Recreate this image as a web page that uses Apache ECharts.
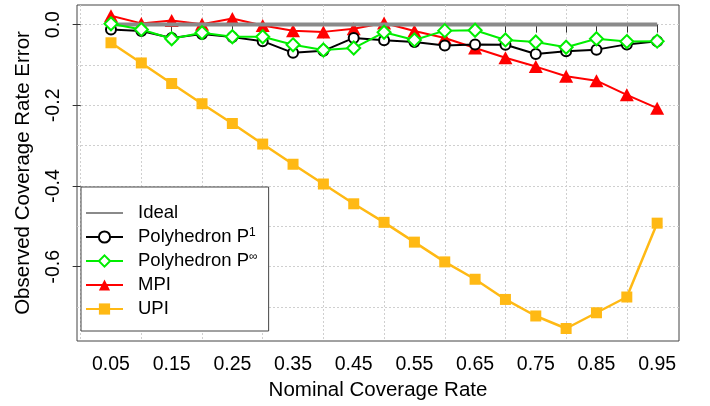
<!DOCTYPE html>
<html>
<head>
<meta charset="utf-8">
<script src="https://cdn.jsdelivr.net/npm/echarts@6/dist/echarts.min.js"></script>
<style>
  html, body { margin: 0; padding: 0; background: #fff; }
  #chart { width: 710px; height: 406px; }
</style>
</head>
<body>
<div id="chart"></div>
<script>
// Nominal coverage levels on the x axis
const coverage = [0.05, 0.10, 0.15, 0.20, 0.25, 0.30, 0.35, 0.40, 0.45, 0.50,
                  0.55, 0.60, 0.65, 0.70, 0.75, 0.80, 0.85, 0.90, 0.95];

// Observed minus nominal coverage for each method
const ideal = [0, 0, 0, 0, 0, 0, 0, 0, 0, 0, 0, 0, 0, 0, 0, 0, 0, 0, 0];
const polyP1 = [-0.012, -0.016, -0.033, -0.023, -0.031, -0.041, -0.070, -0.065, -0.033, -0.039,
                -0.043, -0.052, -0.049, -0.050, -0.073, -0.066, -0.062, -0.049, -0.041];
const polyPInf = [0.002, -0.012, -0.035, -0.020, -0.030, -0.030, -0.050, -0.063, -0.058, -0.019,
                  -0.038, -0.015, -0.014, -0.038, -0.043, -0.056, -0.035, -0.042, -0.041];
const mpi = [0.022, 0.003, 0.010, 0.001, 0.015, -0.002, -0.015, -0.018, -0.010, 0.004,
             -0.016, -0.033, -0.058, -0.082, -0.104, -0.128, -0.139, -0.174, -0.207];
const upi = [-0.045, -0.095, -0.146, -0.196, -0.245, -0.296, -0.346, -0.395, -0.444, -0.490,
             -0.539, -0.588, -0.631, -0.681, -0.722, -0.753, -0.714, -0.675, -0.492];

// Axis ticks, labels and grid lines
const xTickValues = [0.05, 0.10, 0.15, 0.20, 0.25, 0.30, 0.35, 0.40, 0.45, 0.50,
                     0.55, 0.60, 0.65, 0.70, 0.75, 0.80, 0.85, 0.90, 0.95];
const xLabelValues = [0.05, 0.15, 0.25, 0.35, 0.45, 0.55, 0.65, 0.75, 0.85, 0.95];
const xGridValues = [0, 0.1, 0.2, 0.3, 0.4, 0.5, 0.6, 0.7, 0.8, 0.9];
const yTickValues = [0, -0.2, -0.4, -0.6];
const yGridValues = [0, -0.1, -0.2, -0.3, -0.4, -0.5, -0.6, -0.7];

const xRange = [-0.006, 0.986];
const yRange = [-0.784, 0.0486];

const FONT = 'Liberation Sans, Arial, sans-serif';
const pairs = (vals) => coverage.map((c, i) => [c, vals[i]]);

const legendText = {
  'Ideal': 'Ideal',
  'Polyhedron P1': 'Polyhedron P{sup|1}',
  'Polyhedron Pinf': 'Polyhedron P{sup|∞}',
  'MPI': 'MPI',
  'UPI': 'UPI'
};

const gridLine = { show: true, lineStyle: { color: '#cfcfcf', width: 1, type: [2, 2] } };

const chart = echarts.init(document.getElementById('chart'), null, { renderer: 'canvas' });
chart.setOption({
  animation: false,
  backgroundColor: '#fff',
  textStyle: { fontFamily: FONT },
  grid: {
    show: true, left: 77, right: 31, top: 5, bottom: 64,
    borderColor: '#444', borderWidth: 1, backgroundColor: 'transparent'
  },
  xAxis: [{
    type: 'value', min: xRange[0], max: xRange[1],
    name: 'Nominal Coverage Rate', nameLocation: 'middle', nameGap: 39,
    nameTextStyle: { fontSize: 20.5, color: '#000', fontFamily: FONT },
    axisLine: { show: false },
    axisTick: { show: true, length: 8, inside: false, customValues: xTickValues,
                lineStyle: { color: '#333', width: 1 } },
    axisLabel: { show: true, customValues: xLabelValues, margin: 14, fontSize: 19.5,
                 color: '#000', fontFamily: FONT, formatter: v => v.toFixed(2) },
    splitLine: { show: false }
  }, {
    type: 'value', min: xRange[0], max: xRange[1],
    axisLine: { show: false },
    axisTick: { show: false, customValues: xGridValues },
    axisLabel: { show: false },
    splitLine: gridLine
  }],
  yAxis: [{
    type: 'value', min: yRange[0], max: yRange[1],
    name: 'Observed Coverage Rate Error', nameLocation: 'middle', nameGap: 43,
    nameRotate: 90,
    nameTextStyle: { fontSize: 20.5, color: '#000', fontFamily: FONT },
    axisLine: { show: false },
    axisTick: { show: true, length: 8, inside: false, customValues: yTickValues,
                lineStyle: { color: '#333', width: 1 } },
    axisLabel: { show: true, customValues: yTickValues, rotate: 90, margin: 13, fontSize: 19.5,
                 color: '#000', fontFamily: FONT, formatter: v => v.toFixed(1) },
    splitLine: { show: false }
  }, {
    type: 'value', min: yRange[0], max: yRange[1],
    axisLine: { show: false },
    axisTick: { show: false, customValues: yGridValues },
    axisLabel: { show: false },
    splitLine: gridLine
  }],
  legend: {
    orient: 'vertical', left: 81, top: 187,
    padding: [16, 11, 12, 4],
    backgroundColor: '#fff', borderColor: '#444', borderWidth: 1, borderRadius: 0,
    itemWidth: 37, itemHeight: 14, itemGap: 4,
    data: [
      { name: 'Ideal', itemStyle: { color: 'rgba(0,0,0,0)', borderWidth: 0, borderColor: 'rgba(0,0,0,0)' } },
      'Polyhedron P1', 'Polyhedron Pinf', 'MPI', 'UPI'
    ],
    formatter: name => legendText[name],
    textStyle: {
      fontSize: 18.5, color: '#000', fontFamily: FONT, lineHeight: 20, padding: [0, 0, 0, 10],
      rich: { sup: { fontSize: 12, lineHeight: 12, verticalAlign: 'top', color: '#000', fontFamily: FONT } }
    }
  },
  series: [{
    name: 'Ideal', type: 'line', data: pairs(ideal),
    symbol: 'none', color: '#8a8a8a', z: 3,
    lineStyle: { color: '#8a8a8a', width: 4 }
  }, {
    name: 'Polyhedron P1', type: 'line', data: pairs(polyP1),
    symbol: 'emptyCircle', symbolSize: 10, color: '#000', z: 4,
    lineStyle: { color: '#000', width: 2 },
    itemStyle: { color: '#000', borderWidth: 2 }
  }, {
    name: 'Polyhedron Pinf', type: 'line', data: pairs(polyPInf),
    symbol: 'emptyDiamond', symbolSize: 13, color: '#00ee00', z: 5,
    lineStyle: { color: '#00ee00', width: 2 },
    itemStyle: { color: '#00ee00', borderWidth: 2 }
  }, {
    name: 'MPI', type: 'line', data: pairs(mpi),
    symbol: 'triangle', symbolSize: [14, 13], color: '#ff0000', z: 2,
    lineStyle: { color: '#ff0000', width: 2 },
    itemStyle: { color: '#ff0000' }
  }, {
    name: 'UPI', type: 'line', data: pairs(upi),
    symbol: 'rect', symbolSize: 11, color: '#ffb914', z: 6,
    lineStyle: { color: '#ffb914', width: 2.5 },
    itemStyle: { color: '#ffb914' }
  }]
});
</script>
</body>
</html>
